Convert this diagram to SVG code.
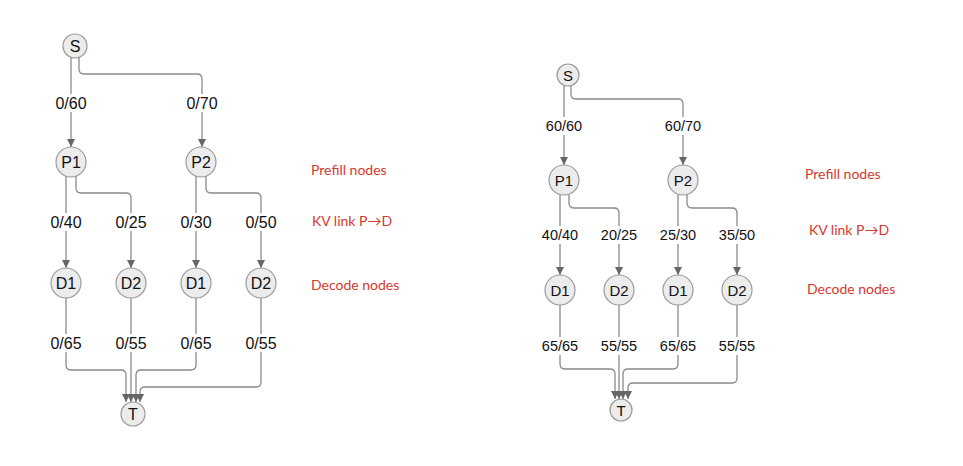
<svg xmlns="http://www.w3.org/2000/svg" width="963" height="466" viewBox="0 0 963 466">
<style>
.e{fill:none;stroke:#8a8a8a;stroke-width:1.3}
.n circle{fill:#ececec;stroke:#9a9a9a;stroke-width:1.2}
.n text{font-family:"Liberation Sans",Arial,sans-serif;font-size:16px;fill:#111;text-anchor:middle;dominant-baseline:central}
.rt .n text{font-size:15px}
.l rect{fill:#fff}
.l text{font-family:"Liberation Sans",Arial,sans-serif;font-size:16px;fill:#111;text-anchor:middle;dominant-baseline:central}
.l text.s{font-size:14.5px}
.r{font-family:Lato,"Noto Sans",sans-serif;font-size:14px;fill:#d33a2f}
</style>
<defs>
<marker id="a" viewBox="0 0 8 8" refX="8" refY="4" markerWidth="8" markerHeight="8" markerUnits="userSpaceOnUse" orient="auto">
<path d="M0,0 L8,4 L0,8 z" fill="#666"/>
</marker>
</defs>
<rect width="963" height="466" fill="#fff"/>
<g id="connectors">
<path class="e" marker-end="url(#a)" d="M71,58 L71,147"/>
<path class="e" marker-end="url(#a)" d="M79,57 L79,69 Q79,74 84,74 L197,74 Q202,74 202,79 L202,147"/>
<path class="e" marker-end="url(#a)" d="M66,176 L66,268"/>
<path class="e" marker-end="url(#a)" d="M76,176 L76,188 Q76,193 81,193 L126,193 Q131,193 131,198 L131,268"/>
<path class="e" marker-end="url(#a)" d="M196,176 L196,268"/>
<path class="e" marker-end="url(#a)" d="M206,176 L206,188 Q206,193 211,193 L256,193 Q261,193 261,198 L261,268"/>
<path class="e" marker-end="url(#a)" d="M66,298 L66,365 Q66,370 71,370 L121,370 Q126,370 126,375 L126,402"/>
<path class="e" marker-end="url(#a)" d="M131,298 L131,402"/>
<path class="e" marker-end="url(#a)" d="M196,298 L196,365 Q196,370 191,370 L141,370 Q136,370 136,375 L136,402"/>
<path class="e" marker-end="url(#a)" d="M261,298 L261,382 Q261,387 256,387 L145,387 Q140,387 140,392 L140,402"/>
<path class="e" marker-end="url(#a)" d="M564,86 L564,165"/>
<path class="e" marker-end="url(#a)" d="M571,86 L571,94 Q571,99 576,99 L678,99 Q683,99 683,104 L683,165"/>
<path class="e" marker-end="url(#a)" d="M560,195 L560,275"/>
<path class="e" marker-end="url(#a)" d="M569,195 L569,203 Q569,208 574,208 L614,208 Q619,208 619,213 L619,275"/>
<path class="e" marker-end="url(#a)" d="M678,195 L678,275"/>
<path class="e" marker-end="url(#a)" d="M687,195 L687,203 Q687,208 692,208 L732,208 Q737,208 737,213 L737,275"/>
<path class="e" marker-end="url(#a)" d="M560,305 L560,364 Q560,369 565,369 L610,369 Q615,369 615,374 L615,399"/>
<path class="e" marker-end="url(#a)" d="M619,305 L619,399"/>
<path class="e" marker-end="url(#a)" d="M678,305 L678,364 Q678,369 673,369 L628,369 Q623,369 623,374 L623,399"/>
<path class="e" marker-end="url(#a)" d="M737,305 L737,378 Q737,383 732,383 L633,383 Q628,383 628,388 L628,399"/>
</g>
<g id="edge-labels" class="l">
<rect x="53" y="94" width="36" height="18"/><text x="71" y="103">0/60</text>
<rect x="184" y="94" width="36" height="18"/><text x="202" y="103">0/70</text>
<rect x="48" y="213" width="36" height="18"/><text x="66" y="222">0/40</text>
<rect x="113" y="213" width="36" height="18"/><text x="131" y="222">0/25</text>
<rect x="178" y="213" width="36" height="18"/><text x="196" y="222">0/30</text>
<rect x="243" y="213" width="36" height="18"/><text x="261" y="222">0/50</text>
<rect x="48" y="334" width="36" height="18"/><text x="66" y="343">0/65</text>
<rect x="113" y="334" width="36" height="18"/><text x="131" y="343">0/55</text>
<rect x="178" y="334" width="36" height="18"/><text x="196" y="343">0/65</text>
<rect x="243" y="334" width="36" height="18"/><text x="261" y="343">0/55</text>
<rect x="542" y="117" width="44" height="18"/><text class="s" x="564" y="126">60/60</text>
<rect x="661" y="117" width="44" height="18"/><text class="s" x="683" y="126">60/70</text>
<rect x="538" y="226" width="44" height="18"/><text class="s" x="560" y="235">40/40</text>
<rect x="597" y="226" width="44" height="18"/><text class="s" x="619" y="235">20/25</text>
<rect x="656" y="226" width="44" height="18"/><text class="s" x="678" y="235">25/30</text>
<rect x="715" y="226" width="44" height="18"/><text class="s" x="737" y="235">35/50</text>
<rect x="538" y="337" width="44" height="18"/><text class="s" x="560" y="346">65/65</text>
<rect x="597" y="337" width="44" height="18"/><text class="s" x="619" y="346">55/55</text>
<rect x="656" y="337" width="44" height="18"/><text class="s" x="678" y="346">65/65</text>
<rect x="715" y="337" width="44" height="18"/><text class="s" x="737" y="346">55/55</text>
</g>
<g id="left-nodes">
<g id="L-S" class="n"><circle cx="75" cy="46" r="12"/><text x="75" y="46">S</text></g>
<g id="L-P1" class="n"><circle cx="71" cy="162" r="15"/><text x="71" y="162">P1</text></g>
<g id="L-P2" class="n"><circle cx="201" cy="162" r="15"/><text x="201" y="162">P2</text></g>
<g id="L-D1a" class="n"><circle cx="66" cy="283" r="15"/><text x="66" y="283">D1</text></g>
<g id="L-D2a" class="n"><circle cx="131" cy="283" r="15"/><text x="131" y="283">D2</text></g>
<g id="L-D1b" class="n"><circle cx="196" cy="283" r="15"/><text x="196" y="283">D1</text></g>
<g id="L-D2b" class="n"><circle cx="261" cy="283" r="15"/><text x="261" y="283">D2</text></g>
<g id="L-T" class="n"><circle cx="133" cy="414" r="12"/><text x="133" y="414">T</text></g>
</g>
<g id="right-nodes" class="rt">
<g id="R-S" class="n"><circle cx="568" cy="75" r="11"/><text x="568" y="75">S</text></g>
<g id="R-P1" class="n"><circle cx="564" cy="180" r="15"/><text x="564" y="180">P1</text></g>
<g id="R-P2" class="n"><circle cx="683" cy="180" r="15"/><text x="683" y="180">P2</text></g>
<g id="R-D1a" class="n"><circle cx="560" cy="290" r="15"/><text x="560" y="290">D1</text></g>
<g id="R-D2a" class="n"><circle cx="619" cy="290" r="15"/><text x="619" y="290">D2</text></g>
<g id="R-D1b" class="n"><circle cx="678" cy="290" r="15"/><text x="678" y="290">D1</text></g>
<g id="R-D2b" class="n"><circle cx="737" cy="290" r="15"/><text x="737" y="290">D2</text></g>
<g id="R-T" class="n"><circle cx="621" cy="410" r="11"/><text x="621" y="410">T</text></g>
</g>
<g id="annotations">
<text class="r" x="311" y="175">Prefill nodes</text>
<text class="r" x="312" y="226">KV link P→D</text>
<text class="r" x="311" y="290">Decode nodes</text>
<text class="r" x="805" y="179">Prefill nodes</text>
<text class="r" x="809" y="235">KV link P→D</text>
<text class="r" x="807" y="294">Decode nodes</text>
</g>
</svg>
